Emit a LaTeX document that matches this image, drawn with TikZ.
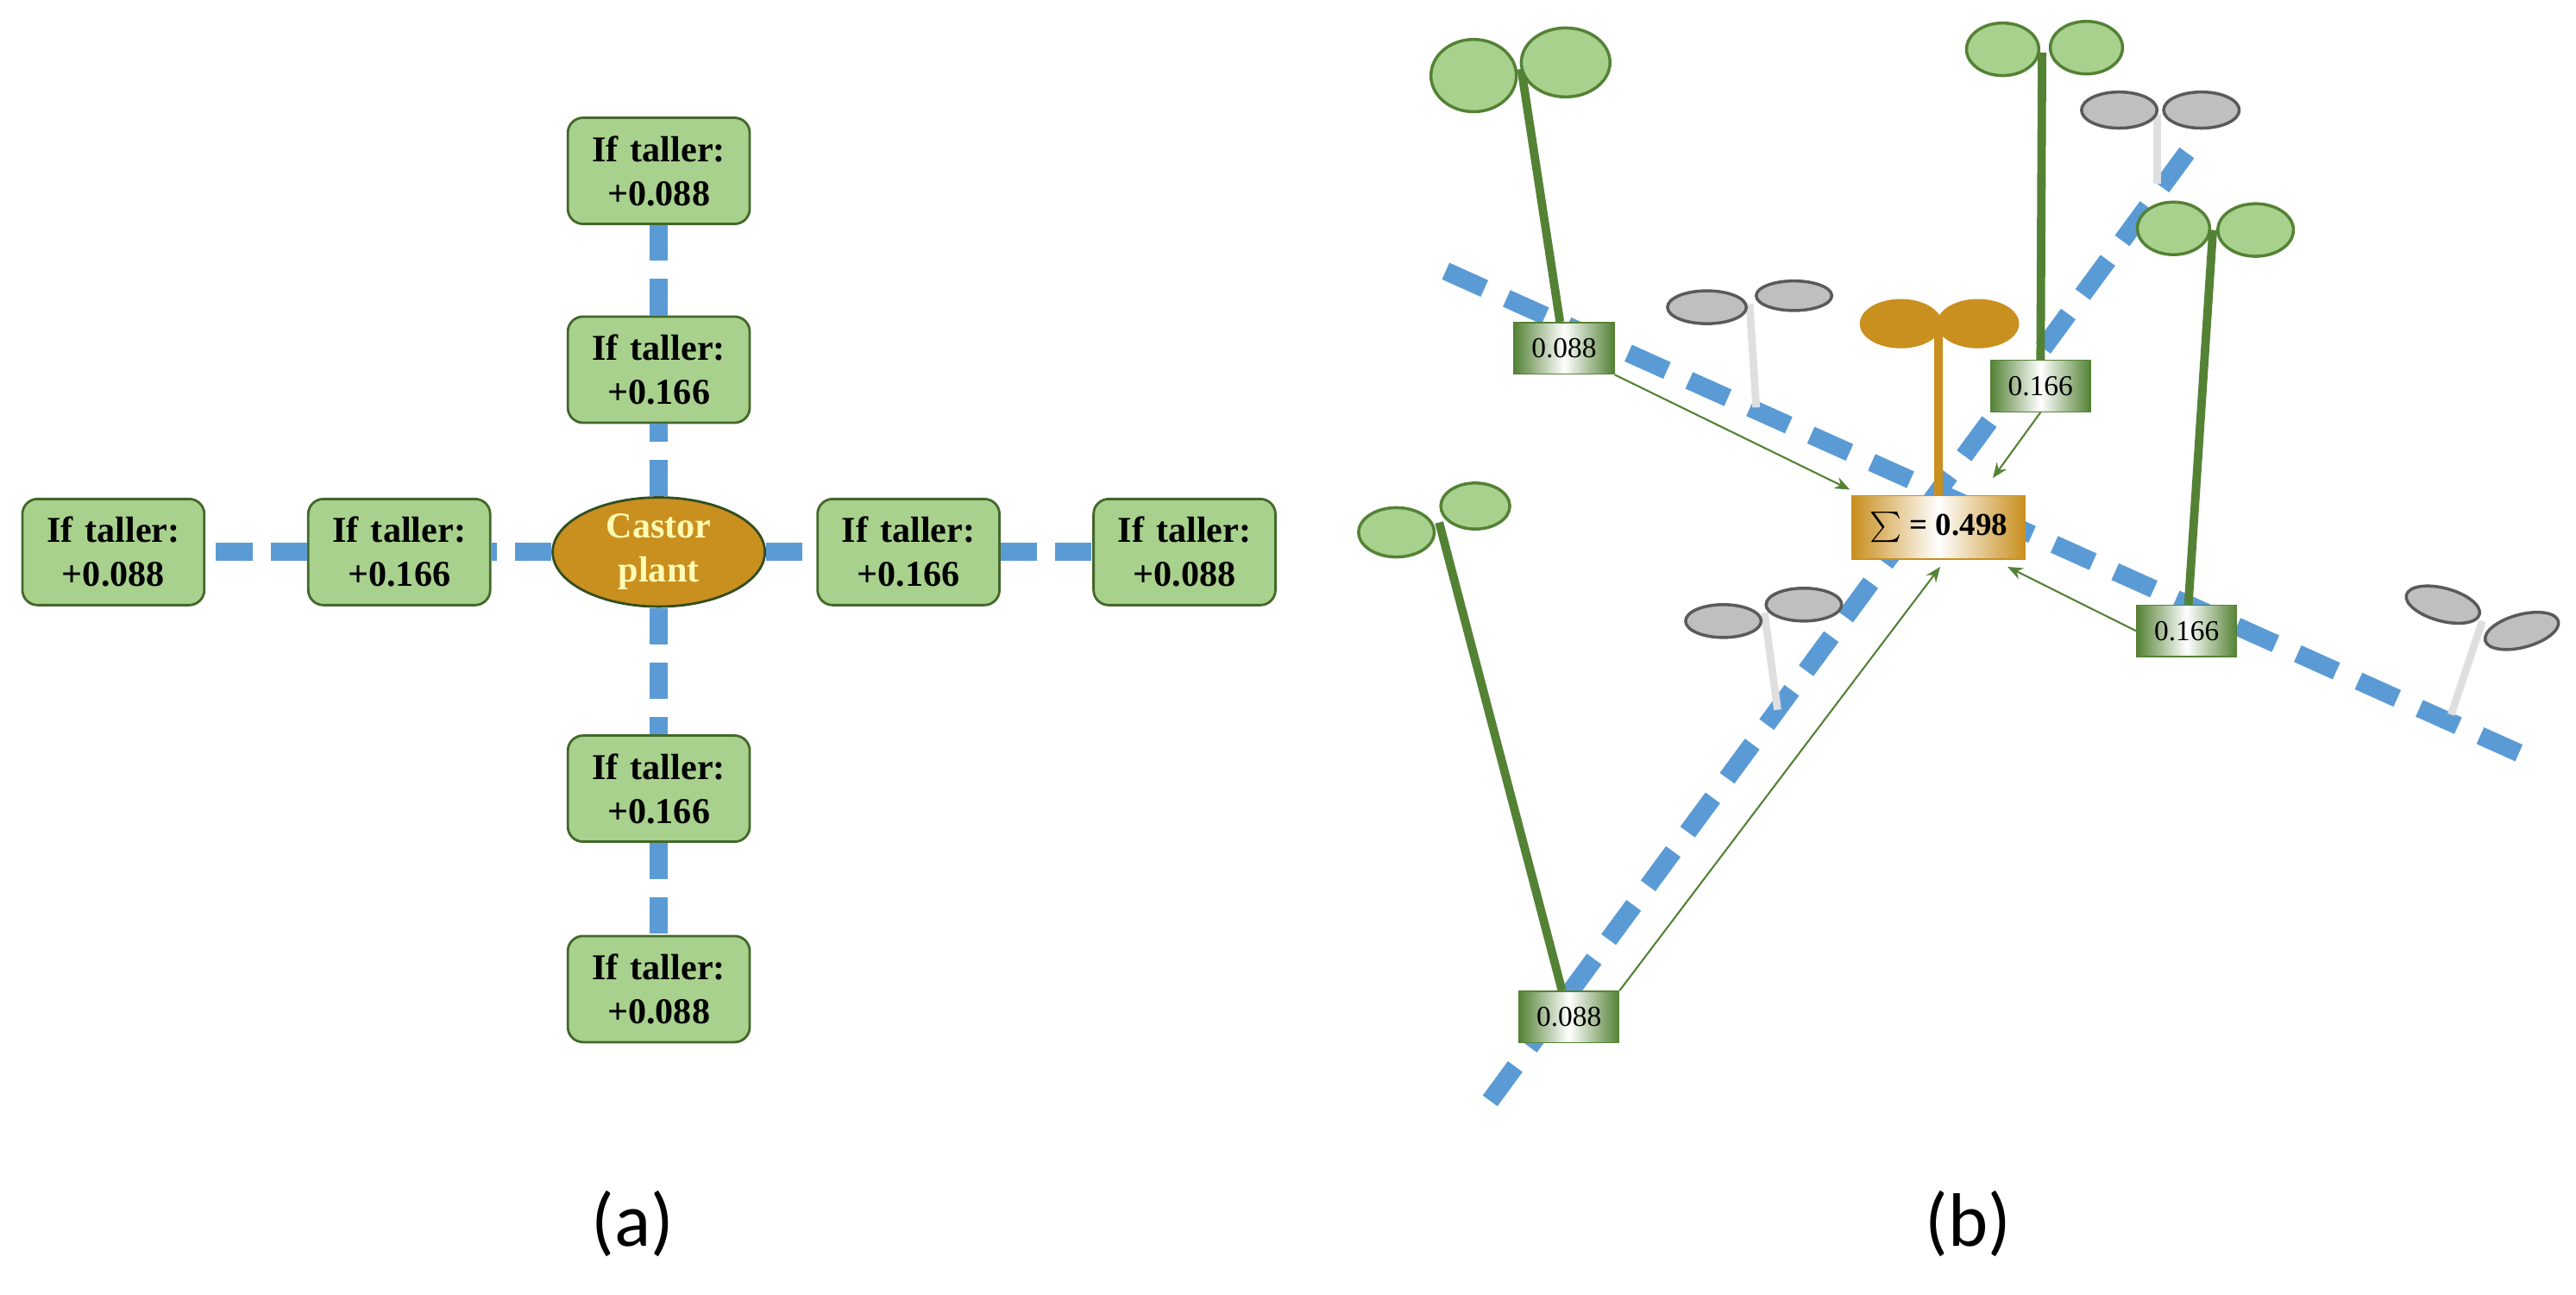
\documentclass[tikz,border=0pt]{standalone}
\usepackage{fontspec}
\setmainfont{Liberation Serif}
\newfontfamily\lblfont{Carlito}
\usetikzlibrary{arrows.meta,shapes.geometric}
\definecolor{boxg}{RGB}{169,209,142}
\definecolor{boxd}{RGB}{84,130,53}
\definecolor{bluel}{RGB}{91,155,213}
\definecolor{castor}{RGB}{201,143,31}
\definecolor{grayl}{RGB}{191,191,191}
\definecolor{grayd}{RGB}{90,90,90}
\begin{document}
\begin{tikzpicture}[x=0.01904cm,y=-0.01904cm,
  tb/.style={draw=boxd!80!black,line width=0.8pt,fill=boxg,rounded corners=5pt,minimum width=60pt,
     text width=56pt,minimum height=35pt,align=center,font=\fontsize{12}{14.5}\selectfont\bfseries,inner sep=1pt},
  cp/.style={ellipse,draw=boxd!60!black,line width=0.8pt,fill=castor,minimum width=70pt,minimum height=36pt,
     align=center,font=\fontsize{12}{14.5}\selectfont\bfseries,text=yellow!30,inner sep=0pt},
  bl/.style={bluel,line width=6pt,dash pattern=on 14pt off 8pt},
  vb/.style={draw=boxd,line width=0.4pt,left color=boxd,right color=boxd,middle color=white,
     minimum width=33pt,minimum height=17pt,inner sep=1pt,font=\fontsize{9.5}{11}\selectfont},
  sb/.style={draw=castor,line width=0.4pt,left color=castor,right color=castor,middle color=white,
     minimum width=57pt,minimum height=21pt,inner sep=1pt,font=\fontsize{10.5}{12}\selectfont\bfseries},
  lf/.style={draw=boxd,line width=1pt,fill=boxg},
  st/.style={boxd,line width=2.8pt},
  gl/.style={draw=grayd,line width=1pt,fill=grayl},
  gs/.style={gray!25,line width=2.5pt},
  ar/.style={boxd,line width=0.6pt,-{Stealth[length=5pt,width=4pt]}},
  lab/.style={font=\lblfont\fontsize{25}{30}\selectfont}]
\useasboundingbox (0,0) rectangle (1568,788);
% ---------- (a)
\node[cp] (c) at (401,336) {Castor\\plant};
\node[tb] (t1) at (401,225) {If taller:\\+0.166};
\node[tb] (t2) at (401,104) {If taller:\\+0.088};
\node[tb] (b1) at (401,480) {If taller:\\+0.166};
\node[tb] (b2) at (401,602) {If taller:\\+0.088};
\node[tb] (l1) at (243,336) {If taller:\\+0.166};
\node[tb] (l2) at (69,336) {If taller:\\+0.088};
\node[tb] (r1) at (553,336) {If taller:\\+0.166};
\node[tb] (r2) at (721,336) {If taller:\\+0.088};
\draw[bl,dash pattern=on 12pt off 6pt] (c) -- (t1) (t1) -- (t2) (c) -- (b1) (b1) -- (b2)
  (c) -- (l1) (l1) -- (l2) (c) -- (r1) (r1) -- (r2);
\node[lab] (la) at (385,745) {(a)};
% ---------- (b)
\coordinate (p1) at (880,165); \coordinate (p2) at (1537,460);
\coordinate (q1) at (907,670); \coordinate (q2) at (1337,85);
\draw[bl] (p1) -- (p2);
\draw[bl] (q1) -- (q2);
% gray plants
\coordinate (g1) at (1065,185); \coordinate (g1b) at (1069,248);
\draw[gs] (g1) -- (g1b);
\draw[gl] (1039,187) ellipse [x radius=24,y radius=10];
\draw[gl] (1092,180) ellipse [x radius=23,y radius=9];
\coordinate (g2) at (1313,70); \coordinate (g2b) at (1313,112);
\draw[gs] (g2) -- (g2b);
\draw[gl] (1290,67) ellipse [x radius=23,y radius=11];
\draw[gl] (1340,67) ellipse [x radius=23,y radius=11];
\coordinate (g3) at (1074,373); \coordinate (g3b) at (1082,432);
\draw[gs] (g3) -- (g3b);
\draw[gl] (1049,378) ellipse [x radius=23,y radius=10];
\draw[gl] (1098,368) ellipse [x radius=23,y radius=10];
\coordinate (g4) at (1511,378); \coordinate (g4b) at (1492,435);
\draw[gs] (g4) -- (g4b);
\draw[gl,rotate around={-15:(1487,368)}] (1487,368) ellipse [x radius=23,y radius=10];
\draw[gl,rotate around={15:(1535,384)}] (1535,384) ellipse [x radius=23,y radius=10];
% sum
\node[sb] (s) at (1180,321) {$\sum$ = 0.498};
\coordinate (o1) at (1180,200);
\draw[castor,line width=3pt] (o1) -- (s.north);
\fill[castor] (1157,197) ellipse [x radius=25,y radius=15];
\fill[castor] (1204,197) ellipse [x radius=25,y radius=15];
% green plants
\node[vb] (v1) at (952,212) {0.088};
\coordinate (v1t) at (926,42);
\draw[st] (v1) -- (v1t);
\draw[lf] (897,46) ellipse [x radius=26,y radius=22];
\draw[lf] (953,38) ellipse [x radius=27,y radius=21];
\node[vb] (v2) at (1242,235) {0.166};
\coordinate (v2t) at (1243,32);
\draw[st] (v2) -- (v2t);
\draw[lf] (1219,30) ellipse [x radius=22,y radius=16];
\draw[lf] (1270,29) ellipse [x radius=22,y radius=16];
\node[vb] (v3) at (1331,384) {0.166};
\coordinate (v3t) at (1347,140);
\draw[st] (v3) -- (v3t);
\draw[lf] (1323,139) ellipse [x radius=22,y radius=16];
\draw[lf] (1373,140) ellipse [x radius=23,y radius=16];
\node[vb] (v4) at (955,619) {0.088};
\coordinate (v4t) at (876,318);
\draw[st] (v4) -- (v4t);
\draw[lf] (850,324) ellipse [x radius=23,y radius=15];
\draw[lf] (898,308) ellipse [x radius=21,y radius=14];
% arrows
\draw[ar] (v1.south east) -- (1126,298);
\draw[ar] (v2.south) -- (1213,291);
\draw[ar] (v3.west) -- (1222,345);
\draw[ar] (v4.north east) -- (1181,345);
\node[lab] (lb) at (1198,745) {(b)};
\end{tikzpicture}
\end{document}
